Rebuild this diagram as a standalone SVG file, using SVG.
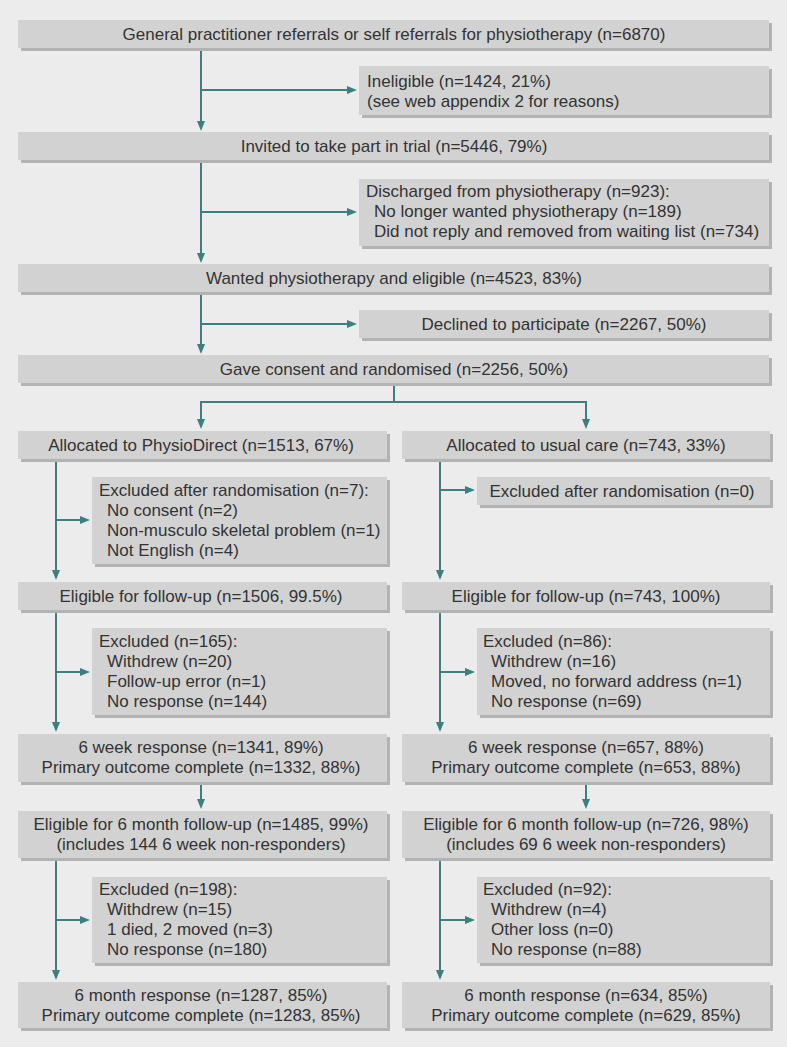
<svg xmlns="http://www.w3.org/2000/svg" width="787" height="1047" viewBox="0 0 787 1047">
<style>
.bx{fill:#d2d2d2}
.sh{fill:#b3b3b3}
.t{font-family:"Liberation Sans",Arial,sans-serif;font-size:17px;fill:#333}
.c{text-anchor:middle}
.ln{fill:none;stroke:#3b7f80;stroke-width:2}
</style>
<defs>
<marker id="ah" markerUnits="userSpaceOnUse" markerWidth="10" markerHeight="10" viewBox="0 0 10 10" refX="3" refY="5" orient="auto">
<path d="M0,1 L10,5 L0,9 z" fill="#3b7f80"/>
</marker>
</defs>
<rect width="787" height="1047" fill="#ececec"/>

<g id="connectors">
<path class="ln" d="M201,48 V124" marker-end="url(#ah)"/>
<path class="ln" d="M201,90 H350" marker-end="url(#ah)"/>
<path class="ln" d="M201,160 V256" marker-end="url(#ah)"/>
<path class="ln" d="M201,212 H350" marker-end="url(#ah)"/>
<path class="ln" d="M201,292 V347" marker-end="url(#ah)"/>
<path class="ln" d="M201,324 H350" marker-end="url(#ah)"/>
<path class="ln" d="M394,383 V402 H201 V422" marker-end="url(#ah)"/>
<path class="ln" d="M394,402 H586 V422" marker-end="url(#ah)"/>
<path class="ln" d="M56,459 V573" marker-end="url(#ah)"/>
<path class="ln" d="M56,520 H83" marker-end="url(#ah)"/>
<path class="ln" d="M440,459 V573" marker-end="url(#ah)"/>
<path class="ln" d="M440,490 H468" marker-end="url(#ah)"/>
<path class="ln" d="M56,610 V725" marker-end="url(#ah)"/>
<path class="ln" d="M56,672 H83" marker-end="url(#ah)"/>
<path class="ln" d="M440,610 V725" marker-end="url(#ah)"/>
<path class="ln" d="M440,672 H468" marker-end="url(#ah)"/>
<path class="ln" d="M201,782 V802" marker-end="url(#ah)"/>
<path class="ln" d="M586,782 V802" marker-end="url(#ah)"/>
<path class="ln" d="M56,857 V973" marker-end="url(#ah)"/>
<path class="ln" d="M56,920 H83" marker-end="url(#ah)"/>
<path class="ln" d="M440,857 V973" marker-end="url(#ah)"/>
<path class="ln" d="M440,920 H468" marker-end="url(#ah)"/>
</g>

<g id="referrals">
<rect class="sh" x="21" y="23" width="751" height="28"/><rect class="bx" x="18" y="20" width="751" height="28"/>
<text class="t c" x="394" y="40">General practitioner referrals or self referrals for physiotherapy (n=6870)</text>
</g>
<g id="ineligible">
<rect class="sh" x="362" y="69" width="410" height="49"/><rect class="bx" x="359" y="66" width="410" height="49"/>
<text class="t" x="367" y="87">Ineligible (n=1424, 21%)</text>
<text class="t" x="367" y="107">(see web appendix 2 for reasons)</text>
</g>
<g id="invited">
<rect class="sh" x="21" y="135" width="751" height="28"/><rect class="bx" x="18" y="132" width="751" height="28"/>
<text class="t c" x="394" y="152">Invited to take part in trial (n=5446, 79%)</text>
</g>
<g id="discharged">
<rect class="sh" x="362" y="182" width="410" height="67"/><rect class="bx" x="359" y="179" width="410" height="67"/>
<text class="t" x="366" y="197">Discharged from physiotherapy (n=923):</text>
<text class="t" x="374" y="217">No longer wanted physiotherapy (n=189)</text>
<text class="t" x="374" y="237">Did not reply and removed from waiting list (n=734)</text>
</g>
<g id="wanted">
<rect class="sh" x="21" y="267" width="751" height="28"/><rect class="bx" x="18" y="264" width="751" height="28"/>
<text class="t c" x="394" y="284">Wanted physiotherapy and eligible (n=4523, 83%)</text>
</g>
<g id="declined">
<rect class="sh" x="362" y="313" width="410" height="28"/><rect class="bx" x="359" y="310" width="410" height="28"/>
<text class="t c" x="564" y="330">Declined to participate (n=2267, 50%)</text>
</g>
<g id="randomised">
<rect class="sh" x="21" y="358" width="751" height="28"/><rect class="bx" x="18" y="355" width="751" height="28"/>
<text class="t c" x="394" y="375">Gave consent and randomised (n=2256, 50%)</text>
</g>

<g id="alloc-physio">
<rect class="sh" x="21" y="434" width="369" height="28"/><rect class="bx" x="18" y="431" width="369" height="28"/>
<text class="t c" x="201" y="451">Allocated to PhysioDirect (n=1513, 67%)</text>
</g>
<g id="alloc-usual">
<rect class="sh" x="405" y="434" width="368" height="28"/><rect class="bx" x="402" y="431" width="368" height="28"/>
<text class="t c" x="586" y="451">Allocated to usual care (n=743, 33%)</text>
</g>
<g id="excl-rand-physio">
<rect class="sh" x="95" y="480" width="295" height="87"/><rect class="bx" x="92" y="477" width="295" height="87"/>
<text class="t" x="99" y="496">Excluded after randomisation (n=7):</text>
<text class="t" x="107" y="516">No consent (n=2)</text>
<text class="t" x="107" y="536">Non-musculo skeletal problem (n=1)</text>
<text class="t" x="107" y="556">Not English (n=4)</text>
</g>
<g id="excl-rand-usual">
<rect class="sh" x="480" y="480" width="293" height="28"/><rect class="bx" x="477" y="477" width="293" height="28"/>
<text class="t c" x="622" y="497">Excluded after randomisation (n=0)</text>
</g>
<g id="elig-physio">
<rect class="sh" x="21" y="585" width="369" height="28"/><rect class="bx" x="18" y="582" width="369" height="28"/>
<text class="t c" x="201" y="602">Eligible for follow-up (n=1506, 99.5%)</text>
</g>
<g id="elig-usual">
<rect class="sh" x="405" y="585" width="368" height="28"/><rect class="bx" x="402" y="582" width="368" height="28"/>
<text class="t c" x="586" y="602">Eligible for follow-up (n=743, 100%)</text>
</g>
<g id="excl-6w-physio">
<rect class="sh" x="95" y="631" width="295" height="87"/><rect class="bx" x="92" y="628" width="295" height="87"/>
<text class="t" x="99" y="647">Excluded (n=165):</text>
<text class="t" x="107" y="667">Withdrew (n=20)</text>
<text class="t" x="107" y="687">Follow-up error (n=1)</text>
<text class="t" x="107" y="707">No response (n=144)</text>
</g>
<g id="excl-6w-usual">
<rect class="sh" x="480" y="631" width="293" height="87"/><rect class="bx" x="477" y="628" width="293" height="87"/>
<text class="t" x="483" y="647">Excluded (n=86):</text>
<text class="t" x="491" y="667">Withdrew (n=16)</text>
<text class="t" x="491" y="687">Moved, no forward address (n=1)</text>
<text class="t" x="491" y="707">No response (n=69)</text>
</g>
<g id="resp-6w-physio">
<rect class="sh" x="21" y="737" width="369" height="48"/><rect class="bx" x="18" y="734" width="369" height="48"/>
<text class="t c" x="201" y="753">6 week response (n=1341, 89%)</text>
<text class="t c" x="201" y="773">Primary outcome complete (n=1332, 88%)</text>
</g>
<g id="resp-6w-usual">
<rect class="sh" x="405" y="737" width="368" height="48"/><rect class="bx" x="402" y="734" width="368" height="48"/>
<text class="t c" x="586" y="753">6 week response (n=657, 88%)</text>
<text class="t c" x="586" y="773">Primary outcome complete (n=653, 88%)</text>
</g>
<g id="elig-6m-physio">
<rect class="sh" x="21" y="814" width="369" height="47"/><rect class="bx" x="18" y="811" width="369" height="47"/>
<text class="t c" x="201" y="830">Eligible for 6 month follow-up (n=1485, 99%)</text>
<text class="t c" x="201" y="850">(includes 144 6 week non-responders)</text>
</g>
<g id="elig-6m-usual">
<rect class="sh" x="405" y="814" width="368" height="47"/><rect class="bx" x="402" y="811" width="368" height="47"/>
<text class="t c" x="586" y="830">Eligible for 6 month follow-up (n=726, 98%)</text>
<text class="t c" x="586" y="850">(includes 69 6 week non-responders)</text>
</g>
<g id="excl-6m-physio">
<rect class="sh" x="95" y="880" width="295" height="86"/><rect class="bx" x="92" y="877" width="295" height="86"/>
<text class="t" x="99" y="895">Excluded (n=198):</text>
<text class="t" x="107" y="915">Withdrew (n=15)</text>
<text class="t" x="107" y="935">1 died, 2 moved (n=3)</text>
<text class="t" x="107" y="955">No response (n=180)</text>
</g>
<g id="excl-6m-usual">
<rect class="sh" x="480" y="880" width="293" height="86"/><rect class="bx" x="477" y="877" width="293" height="86"/>
<text class="t" x="483" y="895">Excluded (n=92):</text>
<text class="t" x="491" y="915">Withdrew (n=4)</text>
<text class="t" x="491" y="935">Other loss (n=0)</text>
<text class="t" x="491" y="955">No response (n=88)</text>
</g>
<g id="resp-6m-physio">
<rect class="sh" x="21" y="985" width="369" height="46"/><rect class="bx" x="18" y="982" width="369" height="46"/>
<text class="t c" x="201" y="1001">6 month response (n=1287, 85%)</text>
<text class="t c" x="201" y="1021">Primary outcome complete (n=1283, 85%)</text>
</g>
<g id="resp-6m-usual">
<rect class="sh" x="405" y="985" width="368" height="46"/><rect class="bx" x="402" y="982" width="368" height="46"/>
<text class="t c" x="586" y="1001">6 month response (n=634, 85%)</text>
<text class="t c" x="586" y="1021">Primary outcome complete (n=629, 85%)</text>
</g>
</svg>
